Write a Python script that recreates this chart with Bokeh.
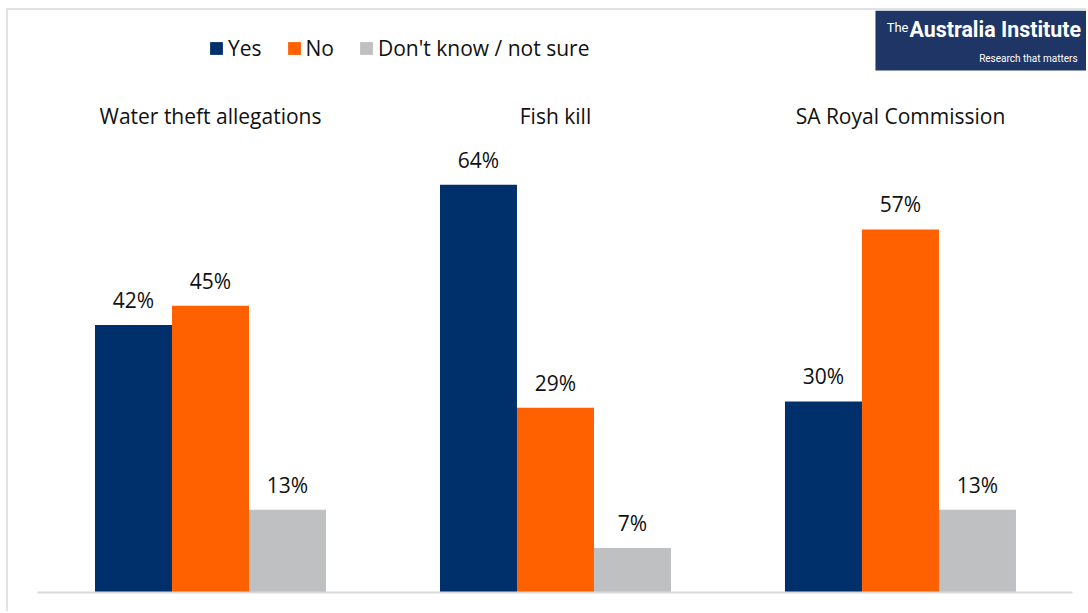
from bokeh.plotting import figure
from bokeh.models import (Range1d, Legend, LegendItem, ColumnDataSource, BoxAnnotation, Label,
                          FixedTicker)
from bokeh.core.properties import value
from bokeh.transform import dodge
from bokeh.embed import file_html
from bokeh.resources import INLINE

# ---- data ----
categories = ["Water theft allegations", "Fish kill", "SA Royal Commission"]
series = ["Yes", "No", "Don't know / not sure"]
yes = [42, 64, 30]
no = [45, 29, 57]
dont_know = [13, 7, 13]

# ---- styles ----
COLORS = ["#00306c", "#ff6000", "#bfc0c2"]
FONT_NAME = "Open Sans"
FONT = value(FONT_NAME)
TXT = "#111111"
FS = "21px"
BAR_W = 0.2232
OFFS = [-BAR_W, 0.0, BAR_W]
LOGO_FONT = "Roboto"

x = list(range(len(categories)))
src = ColumnDataSource(dict(
    x=x, cat=categories,
    s0=yes, s1=no, s2=dont_know,
    l0=[f"{v}%" for v in yes], l1=[f"{v}%" for v in no], l2=[f"{v}%" for v in dont_know],
))

Y_TOP = 91.37
p = figure(width=1080, height=603,
           x_range=Range1d(-0.5855, 2.545), y_range=Range1d(0, Y_TOP),
           output_backend="svg", toolbar_location=None,
           min_border_left=0, min_border_right=0, min_border_top=0, min_border_bottom=21)
p.styles = {"margin-left": "6px", "margin-top": "8px",
            "border-left": "2px solid #e2e2e2", "border-top": "2px solid #e2e2e2"}
p.outline_line_color = None
p.xgrid.visible = False
p.ygrid.visible = False
p.yaxis.visible = False
p.xaxis.ticker = FixedTicker(ticks=[])
p.xaxis.bounds = (-0.5, 2.5)
p.xaxis.axis_line_color = "#d9d9d9"
p.xaxis.axis_line_width = 2
p.xaxis.major_tick_line_color = None
p.xaxis.minor_tick_line_color = None

renderers = []
for i, off in enumerate(OFFS):
    r = p.vbar(x=dodge("x", off, range=p.x_range), top=f"s{i}", width=BAR_W, source=src,
               fill_color=COLORS[i], line_color=None)
    renderers.append(r)
    p.text(x=dodge("x", off, range=p.x_range), y=f"s{i}", text=f"l{i}", source=src,
           text_align="center", text_baseline="middle", y_offset=-25,
           text_font=FONT, text_font_size=FS, text_color=TXT)

# category titles
TITLE_Y = Y_TOP - 16.64
p.text(x="x", y=TITLE_Y, text="cat", source=src, text_align="center", text_baseline="middle",
       text_font=FONT, text_font_size=FS, text_color=TXT)

legend = Legend(items=[LegendItem(label=s, renderers=[r]) for s, r in zip(series, renderers)],
                orientation="horizontal", location=(200, 530),
                glyph_width=16, glyph_height=16, label_standoff=4, spacing=24,
                padding=0, margin=0, border_line_color=None, background_fill_alpha=0,
                label_text_font=FONT_NAME, label_text_font_size=FS, label_text_color=TXT)
p.add_layout(legend)

# logo
p.add_layout(BoxAnnotation(left=1.9275, bottom=81.95, fill_color="#1f3566", fill_alpha=1,
                           line_color=None))
p.add_layout(Label(x=1.960, y=87.45, text="The", text_color="white",
                   text_font=LOGO_FONT, text_font_size="13px"))
p.add_layout(Label(x=2.026, y=86.45, text="Australia Institute", text_color="white",
                   text_font=LOGO_FONT, text_font_size="21.4px", text_font_style="bold"))
p.add_layout(Label(x=2.228, y=83.83, text="Research that matters", text_color="white",
                   text_baseline="middle",
                   text_font=LOGO_FONT, text_font_size="10px"))

open("out.html", "w").write(file_html(p, INLINE))
